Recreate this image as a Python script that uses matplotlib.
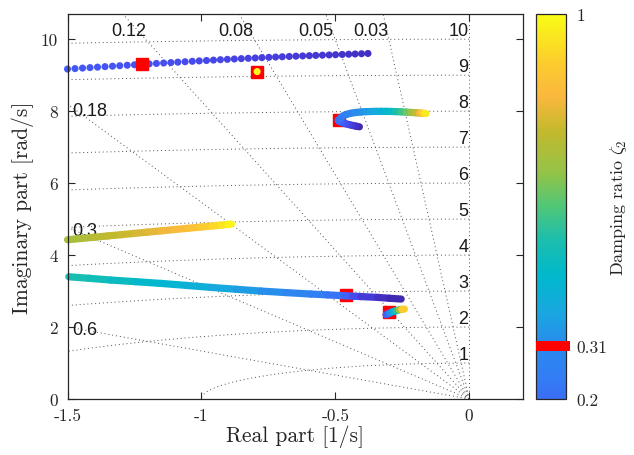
import numpy as np
import matplotlib
matplotlib.use("Agg")
import matplotlib.pyplot as plt
from matplotlib.colors import LinearSegmentedColormap, ListedColormap, Normalize
from matplotlib.collections import LineCollection
from matplotlib.cm import ScalarMappable
from matplotlib.transforms import blended_transform_factory

plt.rcParams["mathtext.fontset"] = "cm"
SERIF = "cmr10"
SANS = "Liberation Sans"

# ---------------------------------------------------------------- data
# Mode 1 (upper branch, discrete samples)
m1_re = [-1.500, -1.472, -1.444, -1.416, -1.388, -1.360, -1.332, -1.305, -1.277, -1.250,
         -1.2225, -1.195, -1.168, -1.141, -1.114, -1.088, -1.061, -1.034, -1.008, -0.981,
         -0.955, -0.929, -0.903, -0.877, -0.851, -0.825, -0.799, -0.774, -0.748, -0.723,
         -0.698, -0.672, -0.647, -0.622, -0.597, -0.573, -0.548, -0.523, -0.499, -0.474,
         -0.450, -0.426, -0.402, -0.378]
m1_im = [9.170, 9.183, 9.197, 9.210, 9.223, 9.237, 9.250, 9.263, 9.276, 9.289,
         9.301, 9.314, 9.326, 9.338, 9.350, 9.362, 9.374, 9.386, 9.397, 9.408,
         9.419, 9.430, 9.440, 9.450, 9.460, 9.469, 9.478, 9.487, 9.496, 9.504,
         9.512, 9.520, 9.528, 9.535, 9.542, 9.549, 9.556, 9.562, 9.568, 9.575,
         9.582, 9.589, 9.596, 9.603]
m1_zeta = [0.135, 0.133, 0.130, 0.128, 0.125, 0.123, 0.120, 0.118, 0.115, 0.113,
           0.111, 0.108, 0.106, 0.103, 0.101, 0.098, 0.096, 0.094, 0.091, 0.089,
           0.086, 0.084, 0.081, 0.079, 0.077, 0.074, 0.072, 0.069, 0.067, 0.064,
           0.062, 0.059, 0.057, 0.055, 0.052, 0.050, 0.047, 0.045, 0.042, 0.040,
           0.038, 0.035, 0.033, 0.030]

# Mode 2 (around 7.7-8 rad/s)
m2_re = [-0.410, -0.423, -0.435, -0.448, -0.460, -0.470, -0.479, -0.486,
         -0.489, -0.480, -0.470, -0.458, -0.443, -0.425, -0.404, -0.385, -0.367,
         -0.348, -0.329, -0.310, -0.292, -0.273, -0.254, -0.236, -0.217, -0.199,
         -0.185, -0.174, -0.166, -0.161]
m2_im = [7.565, 7.583, 7.602, 7.625, 7.648, 7.672, 7.694, 7.722,
         7.750, 7.815, 7.870, 7.910, 7.940, 7.962, 7.978, 7.986, 7.991,
         7.994, 7.995, 7.994, 7.991, 7.987, 7.981, 7.973, 7.964, 7.955,
         7.947, 7.941, 7.937, 7.935]
m2_zeta = [0.00, 0.02, 0.04, 0.065, 0.09, 0.115, 0.14, 0.17,
           0.20, 0.22, 0.24, 0.26, 0.28, 0.30, 0.32, 0.34, 0.36,
           0.385, 0.41, 0.44, 0.47, 0.51, 0.55, 0.60, 0.66, 0.73,
           0.80, 0.87, 0.93, 1.00]

# Mode 3 (around 4.5 rad/s)
m3_re = [-1.500, -1.450, -1.400, -1.350, -1.300, -1.250, -1.200, -1.150,
         -1.100, -1.050, -1.000, -0.960, -0.925, -0.900, -0.888]
m3_im = [4.425, 4.461, 4.496, 4.532, 4.567, 4.603, 4.639, 4.674,
         4.710, 4.745, 4.781, 4.809, 4.834, 4.852, 4.861]
m3_zeta = [0.70, 0.715, 0.73, 0.745, 0.76, 0.775, 0.79, 0.81,
           0.83, 0.855, 0.88, 0.91, 0.94, 0.97, 1.00]

# Mode 4 (around 3 rad/s)
m4_re = [-1.495, -1.420, -1.339, -1.245, -1.152, -1.058, -0.965, -0.871, -0.778,
         -0.684, -0.591, -0.528, -0.466, -0.435, -0.404, -0.342, -0.298, -0.254]
m4_im = [3.397, 3.355, 3.306, 3.260, 3.213, 3.158, 3.102, 3.050, 3.000,
         2.957, 2.917, 2.893, 2.870, 2.858, 2.846, 2.824, 2.800, 2.778]
m4_zeta = [0.53, 0.51, 0.49, 0.47, 0.45, 0.425, 0.40, 0.37, 0.34,
           0.305, 0.27, 0.235, 0.20, 0.12, 0.07, 0.04, 0.02, 0.00]

# Mode 5 (around 2.4 rad/s)
m5_re = [-0.311, -0.298, -0.286, -0.273, -0.261, -0.251, -0.242]
m5_im = [2.342, 2.385, 2.426, 2.454, 2.481, 2.491, 2.500]
m5_zeta = [0.10, 0.22, 0.38, 0.48, 0.62, 0.80, 1.00]

# Fixed pole
fixed_re, fixed_im, fixed_zeta = -0.792, 9.10, 1.0

# Poles at the design value of zeta_2
zeta2_design = 0.31
design_re = [-1.221, -0.792, -0.485, -0.461, -0.299]
design_im = [9.300, 9.100, 7.741, 2.880, 2.410]

# s-plane grid
grid_zeta = [0.0, 0.03, 0.05, 0.08, 0.12, 0.18, 0.3, 0.6, 1.0]
grid_wn = [1, 2, 3, 4, 5, 6, 7, 8, 9, 10]
zeta_top_labels = ["0.12", "0.08", "0.05", "0.03"]
zeta_top_x = [-1.271, -0.872, -0.572, -0.368]
zeta_left_labels = ["0.18", "0.3", "0.6"]
zeta_left_y = [8.03, 4.675, 1.944]

xticks = [-1.5, -1, -0.5, 0]
xticklabels = ["-1.5", "-1", "-0.5", "0"]
yticks = [0, 2, 4, 6, 8, 10]
yticklabels = ["0", "2", "4", "6", "8", "10"]
cbar_ticks = [0.2, zeta2_design, 1.0]
cbar_ticklabels = ["0.2", "0.31", "1"]

# parula-like colour map
parula_pos = [0.00, 0.05, 0.10, 0.15, 0.20, 0.24, 0.31, 0.375, 0.457, 0.535,
              0.60, 0.67, 0.755, 0.83, 0.90, 1.00]
parula_rgb = [(0.2422, 0.1504, 0.6603), (0.2740, 0.2180, 0.8300),
              (0.2800, 0.3000, 0.9400), (0.2550, 0.3750, 0.9850),
              (0.2300, 0.4300, 0.9650), (0.2000, 0.4900, 0.9600),
              (0.1650, 0.5400, 0.9300), (0.1000, 0.6500, 0.8800),
              (0.0000, 0.7250, 0.8000), (0.1200, 0.7450, 0.6700),
              (0.3100, 0.7800, 0.4700), (0.5800, 0.7650, 0.2800),
              (0.7600, 0.7250, 0.1800), (0.9800, 0.7200, 0.2400),
              (0.9900, 0.8000, 0.1800), (0.9769, 0.9839, 0.0805)]
cmap = LinearSegmentedColormap.from_list("parula", list(zip(parula_pos, parula_rgb)), N=512)
norm = Normalize(0.0, 1.0)

# ---------------------------------------------------------------- figure
fig = plt.figure(figsize=(6.34, 4.56), dpi=100)
ax = fig.add_axes([0.1065, 0.1228, 0.718, 0.8443])
ax.set_xlim(-1.5, 0.2)
ax.set_ylim(0, 10.7)

grid_kw = dict(color="0.3", lw=0.7, linestyle=(0, (1, 3)), zorder=1)
for z in grid_zeta:
    ax.plot([0, -30 * z], [0, 30 * np.sqrt(1 - z ** 2)], **grid_kw)
theta = np.linspace(np.pi / 2, np.pi, 600)
for wn in grid_wn:
    ax.plot(wn * np.cos(theta), wn * np.sin(theta), **grid_kw)

lab_kw = dict(fontfamily=SANS, fontsize=13, color="0.1", zorder=1.5)
for txt, xv in zip(zeta_top_labels, zeta_top_x):
    ax.text(xv, 10.23, txt, ha="center", va="center", **lab_kw)
for txt, yv in zip(zeta_left_labels, zeta_left_y):
    ax.text(-1.481, yv, txt, ha="left", va="center", **lab_kw)
for wn in grid_wn:
    ax.text(-0.003, wn, str(wn), ha="right", va="bottom", **lab_kw)


def trail(re, im, zeta, lw=5.2):
    pts = np.column_stack([re, im])
    segs = np.stack([pts[:-1], pts[1:]], axis=1)
    z = np.asarray(zeta)
    lc = LineCollection(segs, colors=cmap(norm((z[:-1] + z[1:]) / 2)),
                        linewidths=lw, capstyle="round", joinstyle="round",
                        zorder=3, clip_on=False)
    ax.add_collection(lc)


# design-point markers (under the dense traces)
sq_kw = dict(marker="s", ms=8, color="red", mec="red", ls="none", clip_on=False)
ax.plot(design_re[1:], design_im[1:], zorder=2, **sq_kw)

trail(m2_re, m2_im, m2_zeta)
trail(m3_re, m3_im, m3_zeta)
trail(m4_re, m4_im, m4_zeta)
trail(m5_re, m5_im, m5_zeta)

ax.scatter(m1_re, m1_im, s=26, c=m1_zeta, cmap=cmap, norm=norm,
           edgecolors="none", zorder=3, clip_on=False)
ax.plot(design_re[:1], design_im[:1], zorder=4, **sq_kw)
ax.scatter([fixed_re], [fixed_im], s=26, c=[fixed_zeta], cmap=cmap, norm=norm,
           edgecolors="none", zorder=5)

ax.set_xticks(xticks)
ax.set_xticklabels(xticklabels, fontfamily=SERIF, fontsize=12.5)
ax.set_yticks(yticks)
ax.set_yticklabels(yticklabels, fontfamily=SERIF, fontsize=12.5)
ax.tick_params(direction="in", top=True, right=True, length=5, width=0.8,
               color="0.15", labelcolor="0.15")
ax.tick_params(axis="x", pad=6)
ax.tick_params(axis="y", pad=7)
for sp in ax.spines.values():
    sp.set_linewidth(0.9)
    sp.set_color("0.15")
    sp.set_zorder(6)

ax.set_xlabel("Real part [1/s]", fontfamily=SERIF, fontsize=15.5, color="0.15", labelpad=1)
ax.set_ylabel("Imaginary part [rad/s]", fontfamily=SERIF, fontsize=15.5, color="0.15", labelpad=5)

# colour bar
cax = fig.add_axes([0.8462, 0.1228, 0.0473, 0.8443])
sub_cmap = ListedColormap(cmap(np.linspace(0.2, 1.0, 256)))
sm = ScalarMappable(norm=Normalize(0.2, 1.0), cmap=sub_cmap)
cb = fig.colorbar(sm, cax=cax, ticks=cbar_ticks)
cb.ax.set_yticklabels(cbar_ticklabels, fontfamily=SERIF, fontsize=12.5, color="0.15")
cb.ax.tick_params(length=0, pad=7)
cb.outline.set_linewidth(0.9)
cb.outline.set_edgecolor("0.15")
cb.set_label(r"Damping ratio $\zeta_2$", fontfamily=SERIF, fontsize=13, color="0.15", labelpad=1)
trans = blended_transform_factory(cax.transAxes, cax.transData)
cax.plot([0, 1.12], [zeta2_design, zeta2_design], color="red", lw=7.2,
         solid_capstyle="butt", transform=trans, clip_on=False, zorder=5)

fig.savefig("out.png", dpi=100)
